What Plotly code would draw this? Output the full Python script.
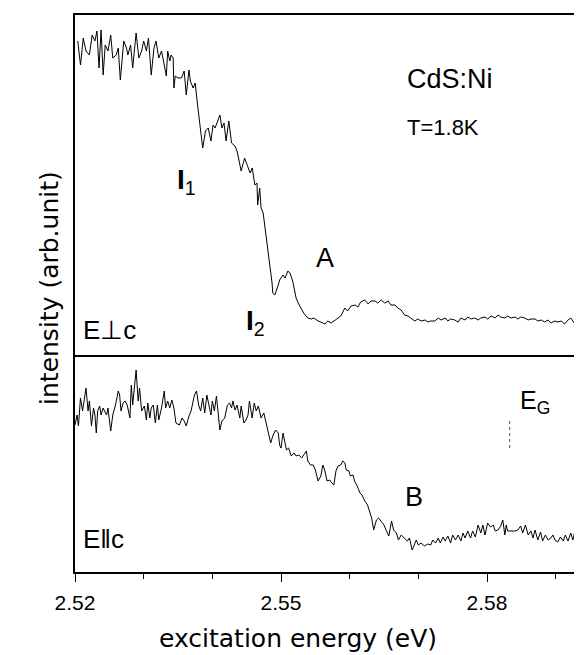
import plotly.graph_objects as go

# ---- data (energy in eV, intensity in arb. units) ----
top_energy = [2.5204,2.5208,2.5212,2.5216,2.5221,2.5225,2.5229,2.5232,2.5235,2.5238,2.5241,2.5244,2.5248,2.5252,2.5255,2.5260,2.5263,2.5266,2.5271,2.5275,2.5277,2.5281,2.5284,2.5289,2.5293,2.5297,2.5300,2.5304,2.5307,2.5311,2.5315,2.5318,2.5322,2.5326,2.5330,2.5333,2.5335,2.5338,2.5340,2.5343,2.5344,2.5346,2.5350,2.5355,2.5359,2.5362,2.5366,2.5368,2.5372,2.5375,2.5379,2.5383,2.5386,2.5390,2.5394,2.5398,2.5401,2.5404,2.5408,2.5411,2.5414,2.5417,2.5420,2.5424,2.5428,2.5433,2.5436,2.5440,2.5442,2.5447,2.5452,2.5455,2.5458,2.5462,2.5465,2.5466,2.5469,2.5471,2.5474,2.5478,2.5481,2.5484,2.5487,2.5488,2.5491,2.5496,2.5498,2.5503,2.5506,2.5510,2.5513,2.5517,2.5522,2.5525,2.5529,2.5533,2.5539,2.5544,2.5548,2.5554,2.5558,2.5564,2.5568,2.5573,2.5579,2.5583,2.5587,2.5593,2.5597,2.5602,2.5608,2.5612,2.5616,2.5622,2.5627,2.5631,2.5637,2.5641,2.5646,2.5651,2.5656,2.5660,2.5666,2.5670,2.5675,2.5680,2.5685,2.5689,2.5695,2.5699,2.5704,2.5710,2.5714,2.5718,2.5724,2.5729,2.5733,2.5739,2.5743,2.5747,2.5753,2.5758,2.5762,2.5768,2.5772,2.5777,2.5782,2.5787,2.5791,2.5797,2.5801,2.5806,2.5812,2.5816,2.5820,2.5826,2.5830,2.5835,2.5841,2.5845,2.5849,2.5855,2.5860,2.5864,2.5870,2.5874,2.5879,2.5884,2.5889,2.5893,2.5899,2.5903,2.5908,2.5913,2.5918,2.5922,2.5928,2.5932,2.5937,2.5943,2.5947,2.5950]
top_intensity = [3.14,2.90,3.17,3.04,3.00,3.20,3.14,3.24,2.87,3.25,2.80,3.10,3.04,3.20,2.97,3.00,3.07,2.75,3.14,3.07,3.00,3.10,2.87,3.22,2.97,3.04,3.14,3.04,3.17,2.80,3.07,3.14,2.97,3.04,2.90,2.79,3.04,2.94,3.00,2.97,2.67,2.79,2.77,2.77,2.84,2.60,2.85,2.74,2.67,2.72,2.47,2.27,2.07,2.24,2.27,2.14,2.30,2.27,2.34,2.40,2.27,2.32,2.14,2.34,2.12,2.09,2.04,1.90,1.84,1.97,1.87,1.82,1.87,1.70,1.72,1.50,1.67,1.47,1.42,1.20,1.07,0.90,0.72,0.62,0.60,0.70,0.75,0.80,0.77,0.84,0.82,0.74,0.57,0.52,0.47,0.42,0.37,0.36,0.37,0.34,0.33,0.31,0.34,0.32,0.35,0.37,0.39,0.47,0.44,0.49,0.50,0.48,0.53,0.55,0.51,0.54,0.54,0.52,0.55,0.52,0.54,0.50,0.50,0.47,0.45,0.40,0.39,0.37,0.34,0.36,0.34,0.35,0.33,0.34,0.34,0.37,0.35,0.37,0.34,0.36,0.35,0.33,0.37,0.35,0.38,0.36,0.37,0.35,0.37,0.38,0.36,0.39,0.37,0.40,0.38,0.37,0.39,0.37,0.38,0.36,0.38,0.37,0.35,0.36,0.36,0.34,0.35,0.33,0.35,0.32,0.34,0.33,0.34,0.31,0.35,0.37,0.31,0.32,0.35,0.34,0.36,0.35]

bottom_energy = [2.5200,2.5203,2.5205,2.5208,2.5211,2.5214,2.5216,2.5219,2.5221,2.5224,2.5227,2.5229,2.5231,2.5233,2.5236,2.5238,2.5241,2.5243,2.5246,2.5248,2.5252,2.5255,2.5259,2.5263,2.5265,2.5267,2.5270,2.5273,2.5276,2.5280,2.5282,2.5284,2.5287,2.5289,2.5292,2.5294,2.5297,2.5299,2.5301,2.5304,2.5306,2.5309,2.5311,2.5314,2.5317,2.5320,2.5322,2.5326,2.5330,2.5332,2.5335,2.5338,2.5341,2.5344,2.5347,2.5352,2.5356,2.5359,2.5362,2.5366,2.5369,2.5374,2.5377,2.5380,2.5383,2.5386,2.5389,2.5392,2.5395,2.5398,2.5400,2.5403,2.5406,2.5409,2.5411,2.5414,2.5418,2.5422,2.5425,2.5428,2.5430,2.5433,2.5436,2.5440,2.5442,2.5446,2.5449,2.5452,2.5454,2.5458,2.5461,2.5464,2.5467,2.5471,2.5475,2.5479,2.5482,2.5485,2.5488,2.5492,2.5496,2.5498,2.5500,2.5503,2.5505,2.5508,2.5511,2.5515,2.5519,2.5522,2.5526,2.5530,2.5533,2.5537,2.5539,2.5543,2.5547,2.5550,2.5554,2.5558,2.5561,2.5564,2.5567,2.5571,2.5574,2.5577,2.5580,2.5583,2.5587,2.5590,2.5593,2.5595,2.5599,2.5601,2.5605,2.5607,2.5611,2.5615,2.5618,2.5622,2.5626,2.5629,2.5632,2.5635,2.5639,2.5642,2.5646,2.5650,2.5653,2.5657,2.5661,2.5664,2.5668,2.5671,2.5675,2.5680,2.5684,2.5687,2.5691,2.5694,2.5697,2.5700,2.5704,2.5709,2.5714,2.5718,2.5721,2.5725,2.5729,2.5732,2.5736,2.5739,2.5743,2.5747,2.5750,2.5754,2.5758,2.5762,2.5765,2.5768,2.5772,2.5776,2.5779,2.5783,2.5787,2.5791,2.5794,2.5797,2.5801,2.5805,2.5809,2.5812,2.5816,2.5820,2.5823,2.5826,2.5828,2.5830,2.5834,2.5838,2.5841,2.5845,2.5849,2.5852,2.5856,2.5860,2.5864,2.5867,2.5870,2.5874,2.5878,2.5881,2.5885,2.5889,2.5893,2.5896,2.5899,2.5903,2.5907,2.5911,2.5914,2.5918,2.5922,2.5925,2.5928,2.5932,2.5936,2.5940,2.5943,2.5947,2.5950]
bottom_intensity = [1.47,1.57,1.46,1.74,1.61,1.76,1.84,1.61,1.71,1.46,1.64,1.57,1.39,1.61,1.66,1.57,1.64,1.61,1.57,1.64,1.41,1.57,1.67,1.81,1.77,1.61,1.69,1.71,1.67,1.54,1.87,1.67,1.91,2.02,1.71,1.84,1.61,1.64,1.66,1.52,1.69,1.54,1.64,1.67,1.49,1.67,1.52,1.64,1.81,1.64,1.71,1.64,1.72,1.64,1.49,1.47,1.54,1.51,1.46,1.56,1.61,1.77,1.81,1.67,1.61,1.74,1.59,1.77,1.67,1.57,1.71,1.61,1.76,1.54,1.42,1.51,1.54,1.67,1.69,1.64,1.71,1.62,1.67,1.54,1.66,1.49,1.52,1.57,1.71,1.54,1.69,1.61,1.66,1.54,1.59,1.47,1.37,1.29,1.36,1.42,1.39,1.27,1.24,1.39,1.32,1.22,1.24,1.16,1.19,1.16,1.17,1.14,1.17,1.21,1.11,1.07,1.07,1.02,0.91,0.96,1.07,1.01,0.91,0.92,0.89,0.87,1.01,1.06,1.07,1.11,1.09,1.02,1.01,0.96,0.97,0.91,0.86,0.79,0.77,0.71,0.67,0.61,0.54,0.42,0.52,0.54,0.51,0.47,0.42,0.36,0.51,0.42,0.39,0.32,0.37,0.34,0.31,0.34,0.22,0.27,0.32,0.27,0.29,0.26,0.28,0.27,0.32,0.29,0.34,0.29,0.35,0.31,0.36,0.29,0.37,0.32,0.37,0.31,0.39,0.34,0.41,0.34,0.41,0.35,0.47,0.39,0.47,0.37,0.49,0.45,0.47,0.41,0.42,0.46,0.52,0.37,0.47,0.41,0.41,0.41,0.41,0.42,0.46,0.39,0.47,0.37,0.41,0.34,0.42,0.32,0.40,0.31,0.37,0.32,0.34,0.37,0.32,0.30,0.35,0.31,0.37,0.31,0.39,0.32,0.41,0.36,0.42,0.34,0.39,0.32,0.37]

x_tick_values = [2.52, 2.55, 2.58]
x_tick_labels = ["2.52", "2.55", "2.58"]
band_gap_energy = 2.5833

SANS = "Liberation Sans, Arial, Helvetica, sans-serif"
WIDE = "DejaVu Sans, Verdana, sans-serif"

fig = go.Figure()
fig.add_trace(go.Scatter(x=top_energy, y=top_intensity, mode="lines",
                         line=dict(color="black", width=1), xaxis="x2", yaxis="y2",
                         showlegend=False, hoverinfo="skip"))
fig.add_trace(go.Scatter(x=bottom_energy, y=bottom_intensity, mode="lines",
                         line=dict(color="black", width=1), xaxis="x", yaxis="y",
                         showlegend=False, hoverinfo="skip"))

split = 217 / 557
xr = [2.52, 2.595]

fig.update_layout(
    width=582, height=655,
    margin=dict(l=67, r=0, t=7, b=91),
    paper_bgcolor="white", plot_bgcolor="white",
    xaxis=dict(domain=[0, 1], range=xr, anchor="y",
               showline=True, linecolor="black", linewidth=1.5,
               tickmode="array", tickvals=x_tick_values, ticktext=x_tick_labels,
               ticks="outside", ticklen=8, tickwidth=1.2, tickcolor="black",
               minor=dict(dtick=0.01, tick0=2.52, ticks="outside", ticklen=5,
                          tickwidth=1, tickcolor="black", showgrid=False),
               tickfont=dict(family=SANS, size=21, color="black"),
               ticklabelstandoff=3,
               showgrid=False, zeroline=False),
    xaxis2=dict(domain=[0, 1], range=xr, anchor="y2", matches="x",
                showline=True, mirror=True, linecolor="black", linewidth=1.5,
                showticklabels=False, ticks="", showgrid=False, zeroline=False),
    yaxis=dict(domain=[0, split], range=[0, 2.17], showline=True,
               linecolor="black", linewidth=1.5, showticklabels=False,
               ticks="", showgrid=False, zeroline=False),
    yaxis2=dict(domain=[split, 1], range=[0, 3.40], showline=True,
                linecolor="black", linewidth=1.5, showticklabels=False,
                ticks="", showgrid=False, zeroline=False),
)

# E_G marker
fig.add_shape(type="line", xref="x", yref="y", x0=band_gap_energy, x1=band_gap_energy,
              y0=1.24, y1=1.54, line=dict(color="#555", width=1, dash="dot"))

def ann(text, x, y, xref, yref, size, xanchor="left", family=SANS):
    fig.add_annotation(text=text, x=x, y=y, xref=xref, yref=yref, showarrow=False,
                       xanchor=xanchor, yanchor="middle",
                       font=dict(family=family, size=size, color="black"))

ann("CdS:Ni", 2.5680, 2.76, "x2", "y2", 27)
ann("T=1.8K", 2.5680, 2.28, "x2", "y2", 22)
ann("<b>I</b><sub>1</sub>", 2.5346, 1.74, "x2", "y2", 28)
ann("<b>I</b><sub>2</sub>", 2.5446, 0.33, "x2", "y2", 28)
ann("A", 2.5564, 0.97, "x2", "y2", 27, xanchor="center")
ann("E\u22a5c", 2.5209, 0.25, "x2", "y2", 26)
ann("B", 2.5694, 0.75, "x", "y", 27, xanchor="center")
ann("E\u2016c", 2.5209, 0.33, "x", "y", 26)
ann("E<sub>G</sub>", 2.5845, 1.70, "x", "y", 25)

# axis titles
fig.add_annotation(text="intensity (arb.unit)", xref="paper", yref="paper",
                   x=-0.0485, y=0.51, textangle=-90, showarrow=False,
                   xanchor="center", yanchor="middle",
                   font=dict(family=WIDE, size=25, color="black"))
fig.add_annotation(text="excitation energy (eV)", xref="paper", yref="paper",
                   x=0.433, y=-0.1185, showarrow=False,
                   xanchor="center", yanchor="middle",
                   font=dict(family=WIDE, size=25, color="black"))

fig.write_html("out.html")
